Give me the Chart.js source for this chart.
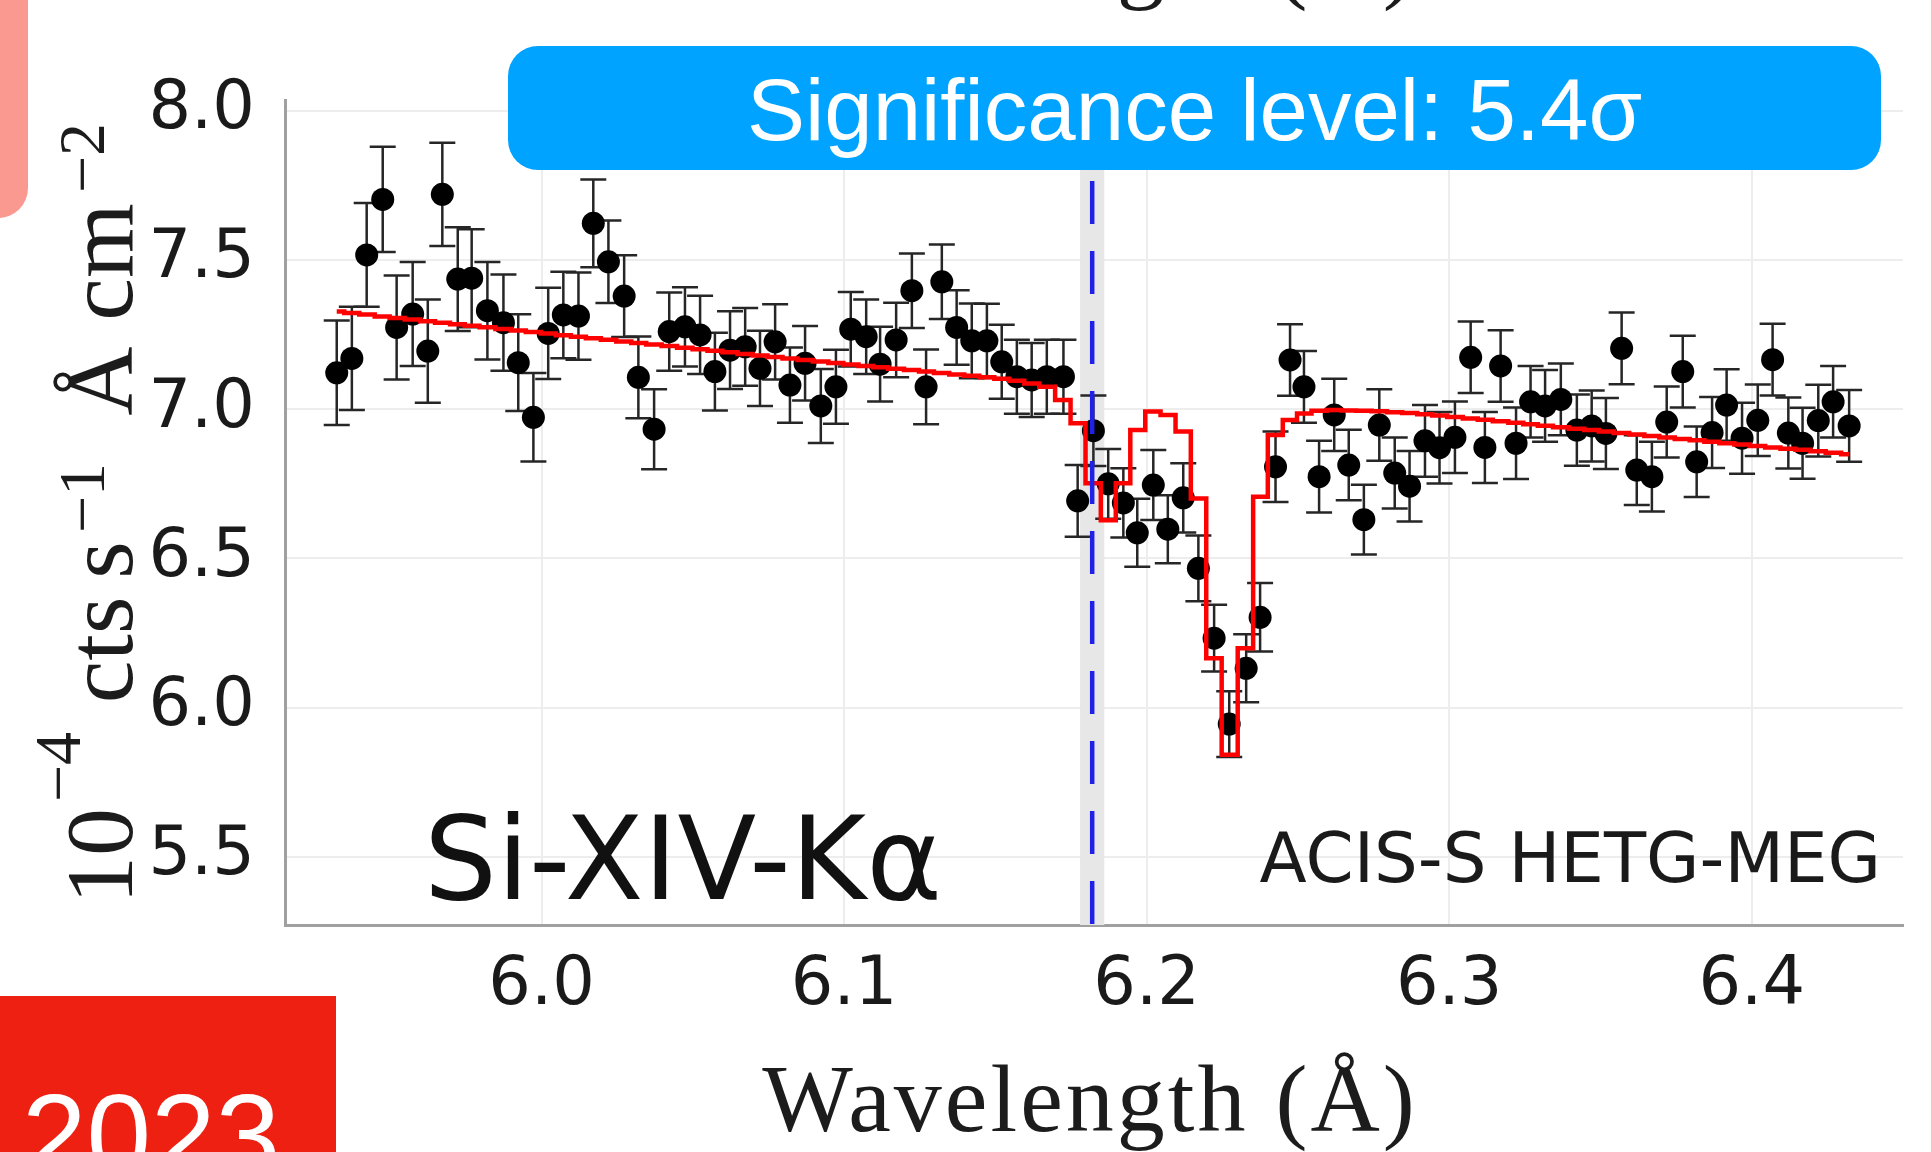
<!DOCTYPE html>
<html>
<head>
<meta charset="utf-8">
<script src="https://cdn.jsdelivr.net/npm/chart.js@4.4.1/dist/chart.umd.min.js"></script>
<style>
  html, body { margin: 0; padding: 0; background: #fff; }
</style>
</head>
<body>
<canvas id="myChart" width="1931" height="1152"></canvas>
<script>
// wavelength of each bin (Å)
const wavelengths = [
  5.9323, 5.9373, 5.9422, 5.9475, 5.9521, 5.9574, 5.9624, 5.9672, 5.9723, 5.9769,
  5.9821, 5.9874, 5.9923, 5.9973, 6.0022, 6.0072, 6.0122, 6.0171, 6.0221, 6.0273,
  6.0320, 6.0372, 6.0422, 6.0474, 6.0524, 6.0573, 6.0623, 6.0673, 6.0722, 6.0772,
  6.0821, 6.0871, 6.0923, 6.0973, 6.1022, 6.1073, 6.1119, 6.1172, 6.1224, 6.1271,
  6.1323, 6.1372, 6.1422, 6.1472, 6.1521, 6.1571, 6.1620, 6.1670, 6.1725, 6.1772,
  6.1824, 6.1873, 6.1923, 6.1969, 6.2022, 6.2070, 6.2121, 6.2171, 6.2223, 6.2273,
  6.2329, 6.2375, 6.2426, 6.2474, 6.2520, 6.2570, 6.2620, 6.2668, 6.2718, 6.2769,
  6.2820, 6.2869, 6.2920, 6.2968, 6.3019, 6.3071, 6.3118, 6.3170, 6.3221, 6.3269,
  6.3317, 6.3369, 6.3422, 6.3471, 6.3518, 6.3570, 6.3620, 6.3670, 6.3719, 6.3772,
  6.3818, 6.3869, 6.3917, 6.3968, 6.4020, 6.4069, 6.4121, 6.4168, 6.4220, 6.4269,
  6.4322
];

// measured flux, 10^-4 cts/s/Å/cm2
const counts = [
  7.122, 7.170, 7.517, 7.703, 7.274, 7.319, 7.195, 7.720, 7.436, 7.439,
  7.330, 7.290, 7.156, 6.973, 7.254, 7.316, 7.312, 7.623, 7.494, 7.379,
  7.107, 6.933, 7.260, 7.276, 7.249, 7.126, 7.198, 7.209, 7.137, 7.226,
  7.081, 7.154, 7.011, 7.075, 7.268, 7.243, 7.151, 7.232, 7.397, 7.075,
  7.427, 7.274, 7.229, 7.229, 7.159, 7.109, 7.098, 7.109, 7.109, 6.693,
  6.928, 6.750, 6.686, 6.586, 6.746, 6.598, 6.703, 6.467, 6.233, 5.945,
  6.132, 6.303, 6.807, 7.165, 7.075, 6.774, 6.981, 6.813, 6.630, 6.947,
  6.786, 6.742, 6.894, 6.871, 6.906, 7.174, 6.872, 7.145, 6.886, 7.025,
  7.011, 7.033, 6.930, 6.944, 6.919, 7.204, 6.796, 6.774, 6.957, 7.126,
  6.824, 6.922, 7.014, 6.903, 6.963, 7.166, 6.920, 6.886, 6.962, 7.025,
  6.944
];

// half length of the error bars
const errors = [
  0.175, 0.173, 0.174, 0.176, 0.174, 0.174, 0.173, 0.173, 0.174, 0.164,
  0.163, 0.161, 0.162, 0.148, 0.153, 0.145, 0.146, 0.147, 0.138, 0.137,
  0.137, 0.134, 0.131, 0.133, 0.131, 0.130, 0.130, 0.130, 0.126, 0.126,
  0.126, 0.125, 0.124, 0.124, 0.125, 0.125, 0.125, 0.125, 0.125, 0.125,
  0.125, 0.125, 0.125, 0.124, 0.124, 0.124, 0.124, 0.124, 0.124, 0.120,
  0.118, 0.117, 0.116, 0.114, 0.117, 0.114, 0.116, 0.110, 0.112, 0.110,
  0.114, 0.115, 0.118, 0.120, 0.120, 0.120, 0.121, 0.118, 0.117, 0.120,
  0.119, 0.118, 0.120, 0.120, 0.120, 0.120, 0.119, 0.120, 0.120, 0.120,
  0.120, 0.120, 0.119, 0.119, 0.119, 0.120, 0.117, 0.117, 0.119, 0.120,
  0.118, 0.119, 0.120, 0.119, 0.120, 0.120, 0.119, 0.119, 0.120, 0.120,
  0.120
];

// best fit model (red histogram)
const model = [
  7.327, 7.322, 7.317, 7.311, 7.306, 7.301, 7.295, 7.290, 7.285, 7.280,
  7.275, 7.269, 7.264, 7.259, 7.254, 7.248, 7.243, 7.238, 7.233, 7.227,
  7.222, 7.217, 7.212, 7.206, 7.201, 7.196, 7.191, 7.185, 7.180, 7.175,
  7.170, 7.165, 7.160, 7.155, 7.150, 7.145, 7.141, 7.136, 7.131, 7.126,
  7.121, 7.116, 7.112, 7.107, 7.102, 7.095, 7.086, 7.075, 7.031, 6.953,
  6.752, 6.628, 6.752, 6.930, 6.992, 6.981, 6.925, 6.701, 6.166, 5.842,
  6.199, 6.707, 6.914, 6.964, 6.986, 6.995, 6.997, 6.996, 6.995, 6.993,
  6.990, 6.987, 6.983, 6.979, 6.974, 6.969, 6.965, 6.960, 6.955, 6.950,
  6.945, 6.940, 6.935, 6.930, 6.925, 6.920, 6.915, 6.910, 6.905, 6.900,
  6.896, 6.891, 6.886, 6.882, 6.877, 6.872, 6.868, 6.864, 6.859, 6.854,
  6.849
];

const xTicks = [6.0, 6.1, 6.2, 6.3, 6.4];
const yTicks = [5.5, 6.0, 6.5, 7.0, 7.5, 8.0];

// rest wavelength marker + its band
const lineCenter = 6.182;
const lineBand = [6.178, 6.186];
const dashTop = 7.765;

// error bars, grey band, under the datasets
const underPlugin = {
  id: 'under',
  beforeDatasetsDraw(chart) {
    const { ctx, chartArea, scales: { x, y } } = chart;
    ctx.save();
    ctx.fillStyle = '#e7e7e7';
    const b0 = x.getPixelForValue(lineBand[0]);
    const b1 = x.getPixelForValue(lineBand[1]);
    ctx.fillRect(b0, chartArea.top, b1 - b0, chartArea.bottom - chartArea.top);

    ctx.strokeStyle = '#262626';
    ctx.lineWidth = 2.5;
    wavelengths.forEach((w, i) => {
      const px = x.getPixelForValue(w);
      const top = y.getPixelForValue(counts[i] + errors[i]);
      const bot = y.getPixelForValue(counts[i] - errors[i]);
      ctx.beginPath();
      ctx.moveTo(px, top); ctx.lineTo(px, bot);
      ctx.moveTo(px - 13, top); ctx.lineTo(px + 13, top);
      ctx.moveTo(px - 13, bot); ctx.lineTo(px + 13, bot);
      ctx.stroke();
    });
    ctx.restore();
  },
  afterDatasetsDraw(chart) {
    const { ctx, chartArea, scales: { x, y } } = chart;
    const px = x.getPixelForValue(lineCenter);
    ctx.save();
    ctx.strokeStyle = '#2020e6';
    ctx.lineWidth = 4.5;
    ctx.setLineDash([43, 27]);
    ctx.beginPath();
    ctx.moveTo(px, y.getPixelForValue(dashTop));
    ctx.lineTo(px, chartArea.bottom);
    ctx.stroke();
    ctx.restore();
  }
};

function vText(ctx, str, xBase, yCenter, size) {
  ctx.save();
  ctx.translate(xBase, yCenter);
  ctx.rotate(-Math.PI / 2);
  ctx.font = size + 'px "Liberation Serif"';
  ctx.textAlign = 'center';
  ctx.textBaseline = 'alphabetic';
  ctx.fillText(str, 0, 0);
  ctx.restore();
}

// titles, labels, banner and the slide decorations
const textPlugin = {
  id: 'texts',
  afterDraw(chart) {
    const ctx = chart.ctx;
    ctx.save();

    // pink tab top left
    ctx.fillStyle = 'rgb(250,153,144)';
    ctx.beginPath();
    ctx.roundRect(-40, -40, 68, 258, 30);
    ctx.fill();

    // red year box
    ctx.fillStyle = '#ed2012';
    ctx.fillRect(0, 996, 336, 156);
    ctx.fillStyle = '#fff';
    ctx.font = '116px "Liberation Sans"';
    ctx.textAlign = 'left';
    ctx.textBaseline = 'alphabetic';
    ctx.fillText('2023', 22, 1176);

    // banner
    ctx.fillStyle = '#00a3ff';
    ctx.beginPath();
    ctx.roundRect(508, 46, 1373, 124, 30);
    ctx.fill();
    ctx.fillStyle = '#fff';
    ctx.font = '87px "Liberation Sans"';
    ctx.textAlign = 'center';
    ctx.fillText('Significance level: 5.4\u03c3', 1194.5, 140);

    // in-plot labels
    ctx.fillStyle = '#111';
    ctx.font = '115px "DejaVu Sans"';
    ctx.textAlign = 'left';
    ctx.fillText('Si-XIV-K\u03b1', 424, 899);
    ctx.fillStyle = '#1a1a1a';
    ctx.font = '69px "DejaVu Sans"';
    ctx.textAlign = 'right';
    ctx.fillText('ACIS-S HETG-MEG', 1881, 882);

    // x title (and the cut off one of the panel above)
    ctx.fillStyle = '#1c1c1c';
    ctx.font = '96px "Liberation Serif"';
    ctx.textAlign = 'center';
    ctx.letterSpacing = '3px';
    ctx.fillText('Wavelength (\u00c5)', 1090, 1131);
    ctx.fillText('Wavelength (\u00c5)', 1090, -9);
    ctx.letterSpacing = '0px';

    // y title
    vText(ctx, '10', 132, 856, 96);
    vText(ctx, '\u22124', 80, 767, 66);
    vText(ctx, 'cts', 132, 650, 96);
    vText(ctx, 's', 132, 560, 96);
    vText(ctx, '\u22121', 104, 498, 66);
    vText(ctx, '\u00c5', 132, 381, 96);
    vText(ctx, 'cm', 132, 262, 96);
    vText(ctx, '\u22122', 104, 158, 66);

    ctx.restore();
  }
};

const tickFont = { family: 'DejaVu Sans', size: 67, lineHeight: 1 };

const ctx = document.getElementById('myChart');
const chart = new Chart(ctx, {
  type: 'scatter',
  data: {
    datasets: [{
      type: 'line',
      label: 'model',
      data: wavelengths.map((w, i) => ({ x: w, y: model[i] })),
      stepped: 'middle',
      borderColor: '#ff0000',
      borderWidth: 4.5,
      pointRadius: 0,
      fill: false,
      order: 0
    }, {
      type: 'scatter',
      label: 'data',
      data: wavelengths.map((w, i) => ({ x: w, y: counts[i] })),
      pointRadius: 11.5,
      pointHoverRadius: 11.5,
      backgroundColor: '#000',
      borderColor: '#000',
      borderWidth: 0,
      order: 1
    }]
  },
  options: {
    responsive: false,
    animation: false,
    layout: { padding: { top: 100, right: 28, left: 0, bottom: 0 } },
    plugins: {
      legend: { display: false },
      tooltip: { enabled: false }
    },
    scales: {
      x: {
        type: 'linear',
        min: 5.9152,
        max: 6.45,
        afterBuildTicks: s => { s.ticks = xTicks.map(v => ({ value: v })); },
        afterFit: s => { s.height = 227; },
        grid: { color: '#ededed', lineWidth: 2, drawTicks: false },
        border: { display: true, color: '#a0a0a0', width: 3 },
        ticks: {
          font: tickFont, color: '#1a1a1a', padding: 28,
          autoSkip: false, maxRotation: 0,
          callback: v => Number(v).toFixed(1)
        }
      },
      y: {
        type: 'linear',
        min: 5.272,
        max: 8.036,
        afterBuildTicks: s => { s.ticks = yTicks.map(v => ({ value: v })); },
        afterFit: s => { s.width = 285; },
        grid: { color: '#ededed', lineWidth: 2, drawTicks: false },
        border: { display: true, color: '#a0a0a0', width: 3 },
        ticks: {
          font: tickFont, color: '#1a1a1a', padding: 30,
          callback: v => Number(v).toFixed(1)
        }
      }
    }
  },
  plugins: [underPlugin, textPlugin]
});
</script>
</body>
</html>
